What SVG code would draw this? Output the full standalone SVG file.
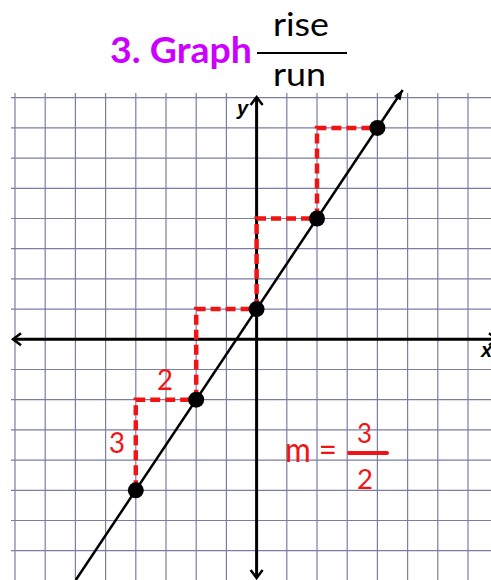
<svg xmlns="http://www.w3.org/2000/svg" width="491" height="580" viewBox="0 0 491 580">
  <style>
    .grid line { stroke: #7a7ea3; stroke-width: 1.2; }
    .axis { stroke: #000; stroke-width: 3; fill: none; }
    .dash { stroke: #f01414; stroke-width: 4.5; fill: none; stroke-dasharray: 10 5; }
    .graph { stroke: #000; stroke-width: 2.5; fill: none; }
    .dot { fill: #000; }
    .red { fill: #f01414; font-family: Lato, "Liberation Sans", sans-serif; }
    .blk { fill: #000; font-family: Lato, "Liberation Sans", sans-serif; }
    .lbl { fill: #000; font-family: "Liberation Sans", Arial, sans-serif; font-weight: bold; font-style: italic; }
  </style>
  <defs>
    <marker id="chev" markerUnits="userSpaceOnUse" markerWidth="24" markerHeight="24" refX="0" refY="0" viewBox="-12 -12 24 24" orient="auto-start-reverse" overflow="visible">
      <path d="M -8 -6 L 0 0 L -8 6" fill="none" stroke="#000" stroke-width="2.5"/>
    </marker>
    <marker id="tri" markerUnits="userSpaceOnUse" markerWidth="24" markerHeight="24" refX="0" refY="0" viewBox="-12 -12 24 24" orient="auto" overflow="visible">
      <path d="M -10 -4 L 0 0 L -10 4 z" fill="#000"/>
    </marker>
  </defs>
  <rect width="491" height="580" fill="#fff"/>

  <g id="title">
    <text x="110" y="63" font-family="Lato, 'Liberation Sans', sans-serif" font-weight="bold" font-size="37" fill="#cc00ff" textLength="142" lengthAdjust="spacingAndGlyphs">3. Graph</text>
    <text class="blk" x="273" y="36" font-size="32" textLength="56" lengthAdjust="spacingAndGlyphs">rise</text>
    <line x1="257" y1="53" x2="347" y2="53" stroke="#000" stroke-width="2"/>
    <text class="blk" x="273" y="86" font-size="32" textLength="53" lengthAdjust="spacingAndGlyphs">run</text>
  </g>

  <g id="grid" class="grid">
    <line x1="15" y1="93" x2="15" y2="580"/>
    <line x1="45.2" y1="93" x2="45.2" y2="580"/>
    <line x1="75.4" y1="93" x2="75.4" y2="580"/>
    <line x1="105.6" y1="93" x2="105.6" y2="580"/>
    <line x1="135.8" y1="93" x2="135.8" y2="580"/>
    <line x1="166" y1="93" x2="166" y2="580"/>
    <line x1="196.2" y1="93" x2="196.2" y2="580"/>
    <line x1="226.4" y1="93" x2="226.4" y2="580"/>
    <line x1="286.8" y1="93" x2="286.8" y2="580"/>
    <line x1="317" y1="93" x2="317" y2="580"/>
    <line x1="347.2" y1="93" x2="347.2" y2="580"/>
    <line x1="377.4" y1="93" x2="377.4" y2="580"/>
    <line x1="407.6" y1="93" x2="407.6" y2="580"/>
    <line x1="437.8" y1="93" x2="437.8" y2="580"/>
    <line x1="468" y1="93" x2="468" y2="580"/>
    <line x1="11" y1="97.7" x2="491" y2="97.7"/>
    <line x1="11" y1="127.9" x2="491" y2="127.9"/>
    <line x1="11" y1="158.1" x2="491" y2="158.1"/>
    <line x1="11" y1="188.3" x2="491" y2="188.3"/>
    <line x1="11" y1="218.5" x2="491" y2="218.5"/>
    <line x1="11" y1="248.7" x2="491" y2="248.7"/>
    <line x1="11" y1="278.9" x2="491" y2="278.9"/>
    <line x1="11" y1="309.1" x2="491" y2="309.1"/>
    <line x1="11" y1="369.5" x2="491" y2="369.5"/>
    <line x1="11" y1="399.7" x2="491" y2="399.7"/>
    <line x1="11" y1="429.9" x2="491" y2="429.9"/>
    <line x1="11" y1="460.1" x2="491" y2="460.1"/>
    <line x1="11" y1="490.3" x2="491" y2="490.3"/>
    <line x1="11" y1="520.5" x2="491" y2="520.5"/>
    <line x1="11" y1="550.7" x2="491" y2="550.7"/>
  </g>

  <g id="axes">
    <line class="axis" x1="13" y1="339.3" x2="497" y2="339.3" marker-start="url(#chev)" marker-end="url(#chev)"/>
    <line class="axis" x1="256.6" y1="97" x2="256.6" y2="578" marker-start="url(#chev)" marker-end="url(#chev)"/>
    <text class="lbl" x="237" y="115" font-size="20">y</text>
    <text class="lbl" x="481" y="357" font-size="20">x</text>
  </g>

  <g id="connectors">
    <path class="dash" d="M135.8 490.3 V399.7 H196.2"/>
    <path class="dash" d="M196.2 399.7 V309.1 H256.6"/>
    <path class="dash" d="M256.6 309.1 V218.5 H317"/>
    <path class="dash" d="M317 218.5 V127.9 H377.4"/>
    <line class="graph" x1="75.8" y1="580" x2="402.7" y2="90" marker-end="url(#tri)"/>
  </g>

  <g id="p1"><circle class="dot" cx="135.8" cy="490.3" r="8"/></g>
  <g id="p2"><circle class="dot" cx="196.2" cy="399.7" r="8"/></g>
  <g id="p3"><circle class="dot" cx="256.6" cy="309.1" r="8"/></g>
  <g id="p4"><circle class="dot" cx="317" cy="218.5" r="8"/></g>
  <g id="p5"><circle class="dot" cx="377.4" cy="127.9" r="8"/></g>

  <g id="labels">
    <text class="red" x="157" y="390" font-size="28" textLength="16" lengthAdjust="spacingAndGlyphs">2</text>
    <text class="red" x="109" y="453" font-size="29" textLength="16" lengthAdjust="spacingAndGlyphs">3</text>
    <text class="red" x="285" y="462" font-size="34" textLength="52" lengthAdjust="spacingAndGlyphs">m =</text>
    <text class="red" x="357" y="443" font-size="27" textLength="15" lengthAdjust="spacingAndGlyphs">3</text>
    <line x1="349" y1="453" x2="387" y2="453" stroke="#f01414" stroke-width="4" stroke-linecap="round"/>
    <text class="red" x="357" y="489" font-size="27" textLength="16" lengthAdjust="spacingAndGlyphs">2</text>
  </g>
</svg>
